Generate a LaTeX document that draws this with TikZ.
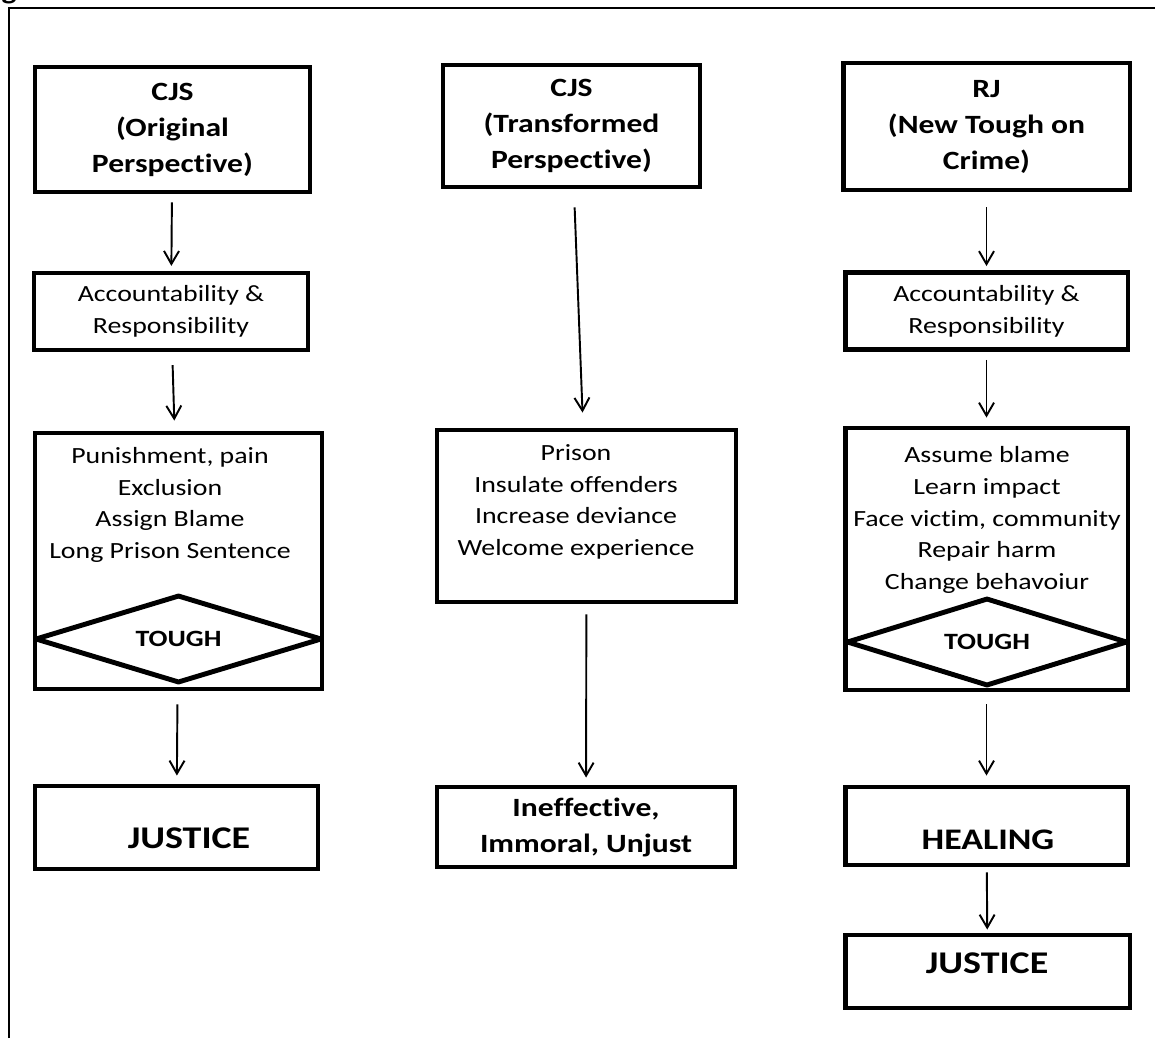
\documentclass[tikz,border=0pt]{standalone}
\usepackage{fontspec}
\setmainfont{Carlito}[FakeStretch=1.2,Ligatures=NoCommon]
\usepackage{tikz}
\usetikzlibrary{positioning,shapes.geometric,arrows.meta}

\newcommand{\headfont}{\fontsize{15}{20.5}\selectfont\bfseries}
\newcommand{\bodyfont}{\fontsize{13.2}{18}\selectfont}

\begin{document}
\begin{tikzpicture}[x=0.02cm,y=-0.02cm,>={Straight Barb[length=0.26cm,width=0.3cm]},
    box/.style={draw,rectangle,line width=2.8pt,inner sep=0pt,align=center},
    tough/.style={draw,diamond,line width=2.8pt,line join=round,inner sep=0pt,aspect=3.2,font=\fontsize{13.3}{15}\selectfont\bfseries},
    txt/.style={align=center,inner sep=0pt,font=\bodyfont},
    flow/.style={->,line width=1.1pt,shorten <=0.16cm,shorten >=0.1cm}]
    \useasboundingbox (0,0) rectangle (1155,1038);
    % frame round the figure
    \draw[line width=1.2pt] (9,1038) -- (9,8) -- (1155,8);
    \node[anchor=base west,inner sep=0pt,font=\headfont] (fig) at (-21,-1) {Figure};

    % CJS original column
    \node[box,minimum width=5.5cm,minimum height=2.5cm,font=\headfont] (A) at (172.5,129.5) {CJS\\(Original\\Perspective)};
    \node[box,line width=2.4pt,minimum width=5.48cm,minimum height=1.54cm,font=\bodyfont] (B) at (171,311.5) {Accountability \&\\Responsibility};
    \node[box,minimum width=5.74cm,minimum height=5.12cm] (C) at (178.5,561) {};
    \node[txt] (Ct) at (170,505) {Punishment, pain\\Exclusion\\Assign Blame\\Long Prison Sentence};
    \node[tough,minimum width=5.74cm,minimum height=1.76cm] (D) at (178.5,639) {TOUGH};
    \node[box,minimum width=5.66cm,minimum height=1.66cm] (E) at (176.5,827.5) {};
    \node[txt,font=\fontsize{18}{20}\selectfont\bfseries] (Et) at (189,838) {JUSTICE};

    % CJS transformed column
    \node[box,minimum width=5.14cm,minimum height=2.44cm,font=\headfont] (F) at (571.5,126) {CJS\\(Transformed\\Perspective)};
    \node[box,minimum width=5.98cm,minimum height=3.44cm] (G) at (586.5,516) {};
    \node[txt] (Gt) at (576,502) {Prison\\Insulate offenders\\Increase deviance\\Welcome experience};
    \node[box,minimum width=5.96cm,minimum height=1.6cm,font=\headfont] (H) at (586,827) {Ineffective,\\Immoral, Unjust};

    % RJ column
    \node[box,minimum width=5.74cm,minimum height=2.54cm,font=\headfont] (I) at (986.5,126.5) {RJ\\(New Tough on\\Crime)};
    \node[box,minimum width=5.66cm,minimum height=1.54cm,font=\bodyfont] (J) at (986.5,311) {Accountability \&\\Responsibility};
    \node[box,minimum width=5.66cm,minimum height=5.24cm] (K) at (986.5,559) {};
    \node[txt] (Kt) at (987,520) {Assume blame\\Learn impact\\Face victim, community\\Repair harm\\Change behavoiur};
    \node[tough,minimum width=5.62cm,minimum height=1.76cm] (L) at (987,642) {TOUGH};
    \node[box,minimum width=5.66cm,minimum height=1.56cm] (M) at (986.5,826) {};
    \node[txt,font=\fontsize{17}{20}\selectfont\bfseries] (Mt) at (988,840) {HEALING};
    \node[box,minimum width=5.7cm,minimum height=1.46cm] (N) at (987.5,971.5) {};
    \node[txt,font=\fontsize{18}{20}\selectfont\bfseries] (Nt) at (987,963) {JUSTICE};

    % arrows of the original perspective
    \path[flow]
    (A) edge              node {} (B)
    (B) edge[shorten <=0.26cm,shorten >=0.2cm] node {} (C)
    (C) edge[shorten <=0.26cm,shorten >=0.16cm] node {} (E);
    % arrows of the transformed perspective
    \path[flow]
    (F) edge[shorten <=0.36cm,shorten >=0.3cm] node {} (G)
    (G) edge[shorten <=0.2cm,shorten >=0.14cm] node {} (H);
    % arrows of the RJ column
    \path[flow]
    (I) edge[shorten <=0.3cm,shorten >=0.08cm] node {} (J)
    (J) edge[shorten >=0.16cm] node {} (K)
    (K) edge[shorten <=0.24cm,shorten >=0.18cm] node {} (M)
    (M) edge[shorten <=0.1cm,shorten >=0.06cm] node {} (N);
  \end{tikzpicture}
\end{document}
